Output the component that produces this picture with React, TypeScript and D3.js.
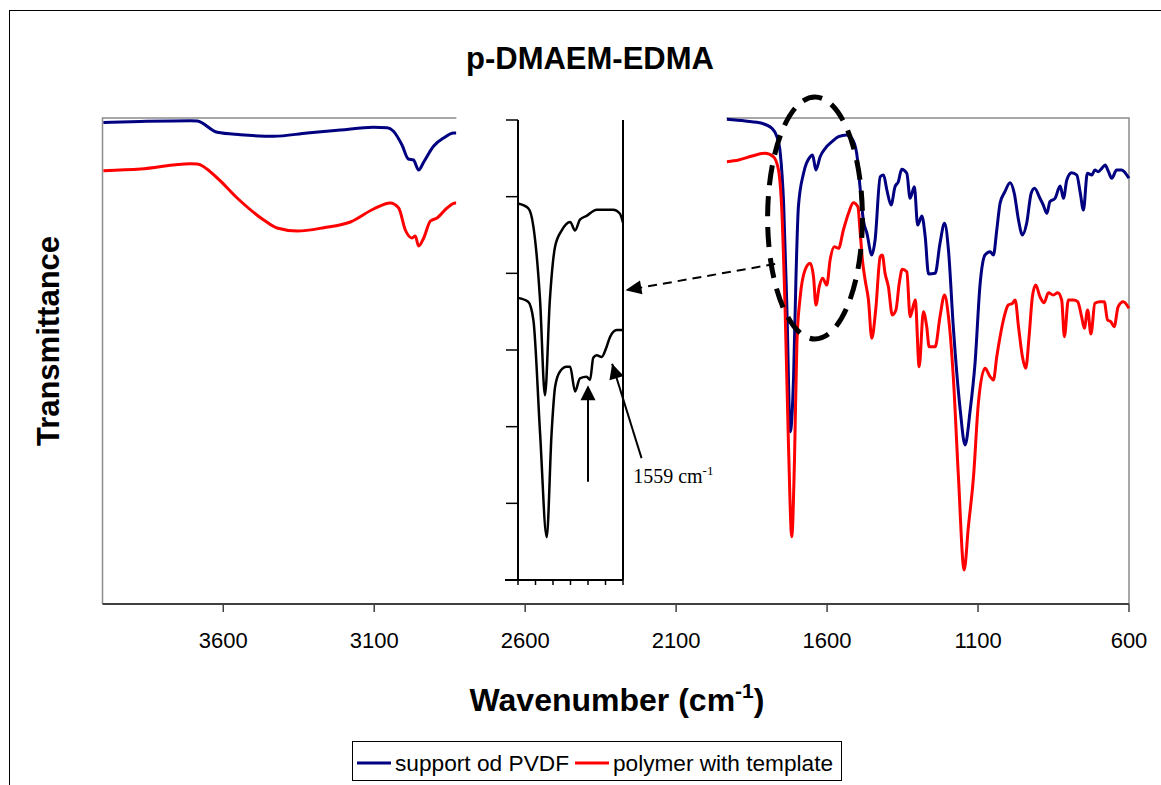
import React from 'react';
import * as d3 from 'd3';

type P = [number, number];

// main x-axis tick labels (wavenumber, cm-1)
const xTicks = [3600, 3100, 2600, 2100, 1600, 1100, 600];

// support od PVDF, high-wavenumber segment (wavenumber, transmittance a.u.)
const leftBlue: P[] = [
  [3997, 481.5], [3874, 482.5], [3709, 483.3], [3686, 483], [3620, 471.7], [3543, 469.3],
  [3433, 467.7], [3322, 471], [3212, 474], [3103, 476.7], [3057, 476.3], [3037, 473],
  [3008, 459], [2987, 445], [2970, 444], [2953, 434], [2936, 442], [2903, 458],
  [2870, 466], [2837, 471], [2828, 471],
];
// polymer with template, high-wavenumber segment
const leftRed: P[] = [
  [3997, 433.3], [3874, 435], [3709, 440.3], [3686, 440], [3620, 426], [3554, 406],
  [3466, 384], [3422, 376], [3355, 373], [3267, 376.3], [3179, 382], [3102, 395],
  [3047, 401], [3019, 396], [2997, 374], [2975, 366], [2964, 368], [2953, 358],
  [2936, 366], [2914, 383], [2892, 386], [2859, 396], [2831, 401], [2828, 401],
];
// support od PVDF, fingerprint segment
const rightBlue: P[] = [
  [1932, 484.7], [1871, 483], [1816, 480.7], [1783, 475.7], [1766, 467.3], [1755, 450.7],
  [1744, 401], [1733, 294], [1722, 172.3], [1711, 227.3], [1703, 327.3], [1695, 397.3],
  [1678, 430.7], [1656, 447.3], [1648, 449], [1637, 434], [1623, 447.3], [1606, 455.7],
  [1584, 462.3], [1562, 467.3], [1535, 469], [1518, 465.7], [1502, 450.7], [1491, 417.3],
  [1480, 384], [1468, 370.7], [1452, 349], [1441, 364], [1424, 427.3], [1413, 429],
  [1402, 414], [1388, 399], [1375, 417.3], [1364, 422.3], [1353, 434.7], [1336, 430.7],
  [1325, 405.7], [1311, 417.3], [1300, 379], [1286, 388], [1275, 367.3], [1264, 330],
  [1242, 330.7], [1226, 360.7], [1211, 380.7], [1198, 354], [1182, 277.3], [1159, 194],
  [1143, 159], [1126, 194], [1110, 240.7], [1093, 320.7], [1077, 349], [1060, 352.3],
  [1049, 349], [1038, 374], [1027, 400.7], [1011, 412.3], [994, 421.3], [980, 410.7],
  [966, 384], [953, 369], [939, 380.7], [924, 410.7], [913, 415.7], [895, 405.7],
  [884, 399], [872, 390.7], [862, 402.3], [845, 405.7], [828, 418], [817, 405.7],
  [806, 424], [790, 431.3], [773, 429], [762, 412.3], [751, 394], [738, 430.7],
  [723, 429], [713, 434], [702, 432.3], [690, 435.7], [679, 439], [668, 432.3],
  [657, 425.7], [641, 434], [624, 434], [613, 431.3], [600, 425.7],
];
// polymer with template, fingerprint segment
const rightRed: P[] = [
  [1932, 442.3], [1893, 444], [1849, 448], [1805, 450.7], [1778, 447.3], [1761, 434],
  [1750, 394], [1739, 294], [1728, 160.7], [1717, 67.3], [1708, 144], [1700, 260.7],
  [1689, 307.3], [1673, 334], [1656, 340.7], [1645, 327.3], [1637, 299], [1626, 317.3],
  [1615, 325.7], [1601, 319], [1590, 344], [1576, 357.3], [1562, 355.7], [1546, 374],
  [1529, 390.7], [1513, 401.3], [1498, 397.3], [1491, 374], [1483, 344], [1474, 324],
  [1463, 304], [1452, 265.7], [1439, 294], [1424, 347.3], [1417, 349], [1408, 330.7],
  [1397, 317.3], [1384, 289], [1372, 294], [1361, 320.7], [1351, 334.7], [1336, 332.3],
  [1325, 287.3], [1308, 304], [1295, 237.3], [1281, 292.3], [1270, 277.3], [1262, 257.3],
  [1242, 257.3], [1226, 287.3], [1211, 309], [1198, 287.3], [1182, 227.3], [1165, 127.3],
  [1146, 34], [1132, 77.3], [1115, 127.3], [1099, 200.7], [1077, 235.7], [1060, 227.3],
  [1049, 224], [1038, 247.3], [1027, 267.3], [1016, 284], [1000, 299], [986, 300.7],
  [977, 304], [966, 277.3], [953, 247.3], [942, 235.7], [931, 267.3], [920, 307.3],
  [909, 319], [895, 307.3], [881, 301.3], [867, 311.3], [851, 309], [836, 311.3],
  [823, 304], [814, 267.3], [801, 304], [784, 304], [770, 302.3], [757, 287.3],
  [748, 275.7], [737, 294], [726, 270], [713, 300.7], [696, 302.3], [682, 302.3],
  [671, 284], [660, 282.3], [649, 277.3], [636, 297.3], [619, 302.3], [600, 295.7],
];

// inset (1800-1500 cm-1 detail)
const insetXTicks = [1800, 1750, 1700, 1650, 1600, 1550, 1500];
const insetYTicks = [0, 10, 20, 30, 40, 50, 60];
const insetUpper: P[] = [
  [1800, 49.1], [1771, 48.5], [1756, 46.1], [1737, 36.5], [1723, 24.1], [1709, 36.5],
  [1694, 43.5], [1675, 45.6], [1651, 46.7], [1637, 45.6], [1623, 47.0], [1604, 47.5],
  [1575, 48.3], [1528, 48.3], [1509, 47.8], [1500, 46.6],
];
const insetLower: P[] = [
  [1800, 36.8], [1771, 36.3], [1756, 33.9], [1737, 19.2], [1718, 5.6], [1704, 19.2],
  [1694, 25.2], [1680, 27.2], [1661, 27.8], [1651, 27.8], [1637, 24.6], [1623, 26.3],
  [1604, 26.5], [1594, 26.1], [1585, 29.0], [1575, 29.3], [1561, 29.1], [1547, 30.4],
  [1537, 31.7], [1518, 32.6], [1504, 32.6], [1500, 32.5],
];

const series = ['support od PVDF', 'polymer with template'];
const colors = ['#000080', '#FF0000'];

const SANS = '"Liberation Sans", Arial, sans-serif';
const SERIF = '"Liberation Serif", "Times New Roman", serif';

function arrowHead(x1: number, y1: number, x2: number, y2: number, len = 15, half = 7) {
  const a = Math.atan2(y2 - y1, x2 - x1);
  const bx = x2 - len * Math.cos(a);
  const by = y2 - len * Math.sin(a);
  const px = -Math.sin(a) * half;
  const py = Math.cos(a) * half;
  return `M${x2},${y2}L${bx + px},${by + py}L${bx - px},${by - py}Z`;
}

export default function App() {
  const W = 1161, H = 785;
  const L = 102.5, R = 1129, T = 118, B = 604;
  const x = d3.scaleLinear().domain([4000, 600]).range([L, R]);
  const y = d3.scaleLinear().domain([0, 486]).range([B, T]);
  const ix = d3.scaleLinear().domain([1800, 1500]).range([518, 623]);
  const iy = d3.scaleLinear().domain([0, 60]).range([580, 120]);

  const line = d3.line<P>().x(d => x(d[0])).y(d => y(d[1])).curve(d3.curveMonotoneX);
  const iline = d3.line<P>().x(d => ix(d[0])).y(d => iy(d[1])).curve(d3.curveMonotoneX);

  // annotations in data units
  const ell = { w: 1640, v: 386, dw: 157, dv: 121 };
  const ecx = x(ell.w), ecy = y(ell.v);
  const erx = Math.abs(x(ell.w - ell.dw) - ecx);
  const ery = Math.abs(y(ell.v + ell.dv) - ecy);

  const dash = { x1: x(1772), y1: y(340), x2: ix(1493), y2: iy(37.8) };
  const vArrow = { x1: ix(1600), y1: iy(12.8), x2: ix(1600), y2: iy(25.4) };
  const dArrow = { x1: ix(1447), y1: iy(15.9), x2: ix(1531), y2: iy(28.2) };

  return (
    <svg width={W} height={H} style={{ position: 'absolute', left: 0, top: 0, background: '#fff' }}>
      <rect x={0} y={0} width={W} height={H} fill="#fff" />
      {/* outer chart border */}
      <rect x={9.5} y={10.5} width={1200} height={900} fill="none" stroke="#000" strokeWidth={1} />

      {/* title */}
      <text x={590} y={69} textAnchor="middle" fontFamily={SANS} fontWeight="bold" fontSize={31}>
        p-DMAEM-EDMA
      </text>

      {/* plot frame */}
      <path d={`M${L},${B}V${T}H${R}V${B}`} fill="none" stroke="#8c8c8c" strokeWidth={1.5} />
      <line x1={L} x2={R} y1={B} y2={B} stroke="#404040" strokeWidth={2} />
      {xTicks.map(t => (
        <g key={t}>
          <line x1={x(t)} x2={x(t)} y1={B} y2={B + 8} stroke="#404040" strokeWidth={1.5} />
          <text x={x(t)} y={648} textAnchor="middle" fontFamily={SANS} fontSize={22}>{t}</text>
        </g>
      ))}

      {/* spectra */}
      <path d={line(leftBlue) || ''} fill="none" stroke={colors[0]} strokeWidth={3} />
      <path d={line(leftRed) || ''} fill="none" stroke={colors[1]} strokeWidth={3} />
      <path d={line(rightBlue) || ''} fill="none" stroke={colors[0]} strokeWidth={3} />
      <path d={line(rightRed) || ''} fill="none" stroke={colors[1]} strokeWidth={3} />

      {/* inset panel */}
      <rect x={x(2828)} y={100} width={x(1932) - x(2828) - 0.5} height={B - 100 - 1} fill="#fff" />
      <line x1={ix(1800)} x2={ix(1800)} y1={iy(60)} y2={iy(0)} stroke="#000" strokeWidth={2} />
      <line x1={ix(1500)} x2={ix(1500)} y1={iy(60)} y2={iy(0)} stroke="#000" strokeWidth={2} />
      <line x1={ix(1800) - 13} x2={ix(1500)} y1={iy(0)} y2={iy(0)} stroke="#000" strokeWidth={2} />
      {insetYTicks.map(t => (
        <line key={t} x1={ix(1800) - 12} x2={ix(1800)} y1={iy(t)} y2={iy(t)} stroke="#000" strokeWidth={1.5} />
      ))}
      {insetXTicks.map(t => (
        <line key={t} x1={ix(t)} x2={ix(t)} y1={iy(0)} y2={iy(0) + 5} stroke="#000" strokeWidth={1.5} />
      ))}
      <path d={iline(insetUpper) || ''} fill="none" stroke="#000" strokeWidth={2.5} />
      <path d={iline(insetLower) || ''} fill="none" stroke="#000" strokeWidth={2.5} />

      {/* dashed ellipse */}
      <ellipse cx={ecx} cy={ecy} rx={erx} ry={ery} fill="none" stroke="#000" strokeWidth={5} strokeDasharray="20 11" />

      {/* dashed arrow to inset */}
      <line x1={dash.x1} y1={dash.y1} x2={dash.x2 + 12} y2={dash.y2 - 2} stroke="#000" strokeWidth={2} strokeDasharray="9 6" />
      <path d={arrowHead(dash.x1, dash.y1, dash.x2, dash.y2, 16, 7)} fill="#000" />

      {/* vertical arrow */}
      <line x1={vArrow.x1} y1={vArrow.y1} x2={vArrow.x2} y2={vArrow.y2 + 10} stroke="#000" strokeWidth={2} />
      <path d={arrowHead(vArrow.x1, vArrow.y1, vArrow.x2, vArrow.y2, 15, 7.5)} fill="#000" />

      {/* diagonal arrow with label */}
      <line x1={dArrow.x1} y1={dArrow.y1} x2={dArrow.x2} y2={dArrow.y2} stroke="#000" strokeWidth={2} />
      <path d={arrowHead(dArrow.x1, dArrow.y1, dArrow.x2, dArrow.y2, 15, 7.5)} fill="#000" />
      <text x={ix(1471)} y={iy(12.6)} fontFamily={SERIF} fontSize={20}>
        1559 cm<tspan dy={-8} fontSize={13}>-1</tspan>
      </text>

      {/* axis titles */}
      <text x={617} y={711} textAnchor="middle" fontFamily={SANS} fontWeight="bold" fontSize={32}>
        Wavenumber (cm<tspan dy={-13} fontSize={21}>-1</tspan><tspan dy={13}>)</tspan>
      </text>
      <text transform={`translate(59,341) rotate(-90)`} textAnchor="middle" fontFamily={SANS} fontWeight="bold" fontSize={31}>
        Transmittance
      </text>

      {/* legend */}
      <rect x={352.5} y={741.5} width={489} height={39} fill="#fff" stroke="#000" strokeWidth={1} />
      <line x1={357} x2={391} y1={763} y2={763} stroke={colors[0]} strokeWidth={3} />
      <text x={395} y={771} fontFamily={SANS} fontSize={22} textLength={174} lengthAdjust="spacingAndGlyphs">{series[0]}</text>
      <line x1={575} x2={609} y1={763} y2={763} stroke={colors[1]} strokeWidth={3} />
      <text x={613} y={771} fontFamily={SANS} fontSize={22} textLength={220} lengthAdjust="spacingAndGlyphs">{series[1]}</text>
    </svg>
  );
}
